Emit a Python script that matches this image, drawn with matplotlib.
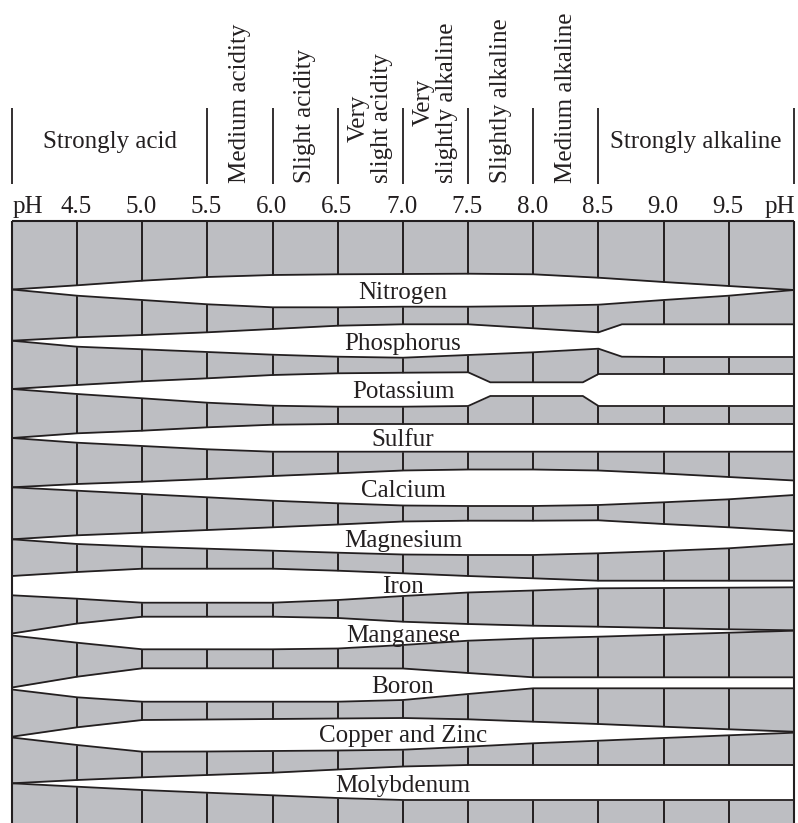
import matplotlib.pyplot as plt

# pH scale along the top of the chart
ph_ticks = [4.5, 5.0, 5.5, 6.0, 6.5, 7.0, 7.5, 8.0, 8.5, 9.0, 9.5]
ph_grid = [4.0, 4.5, 5.0, 5.5, 6.0, 6.5, 7.0, 7.5, 8.0, 8.5, 9.0, 9.5, 10.0]

# soil reaction classes: boundaries and names
zone_edges = [4.0, 5.5, 6.0, 6.5, 7.0, 7.5, 8.0, 8.5, 10.0]
zone_names = ['Strongly acid', 'Medium acidity', 'Slight acidity',
              'Very\nslight acidity', 'Very\nslightly alkaline',
              'Slightly alkaline', 'Medium alkaline', 'Strongly alkaline']
zone_rotated = [False, True, True, True, True, True, True, False]

# nutrient bands: upper and lower edge (chart units, downward) at each pH
nitrogen_ph = ph_grid
nitrogen_top = [289.5, 285.3, 280.7, 277.0, 275.0, 274.3, 274.0, 273.7, 274.3, 277.7, 282.0, 286.0, 290.0]
nitrogen_bot = [289.5, 295.7, 300.0, 304.3, 307.3, 307.3, 306.7, 306.7, 306.0, 304.7, 300.0, 295.7, 290.0]

phosphorus_ph = [4.0, 4.5, 5.0, 5.5, 6.0, 6.5, 7.0, 7.5, 8.0, 8.5, 8.68, 9.0, 9.5, 10.0]
phosphorus_top = [340.7, 337.3, 335.0, 332.3, 329.0, 325.7, 324.3, 324.3, 328.3, 332.3, 324.3, 324.3, 324.3, 324.3]
phosphorus_bot = [340.7, 346.7, 349.3, 352.0, 354.7, 356.7, 357.7, 355.0, 352.3, 348.7, 356.7, 357.0, 357.0, 357.0]

potassium_ph = [4.0, 4.5, 5.0, 5.5, 6.0, 6.5, 7.0, 7.5, 7.67, 8.38, 8.5, 9.0, 9.5, 10.0]
potassium_top = [389.0, 385.0, 381.3, 378.3, 375.0, 373.3, 372.7, 372.3, 382.3, 382.3, 374.0, 374.0, 374.0, 374.0]
potassium_bot = [389.0, 394.0, 398.3, 402.7, 405.7, 406.7, 406.7, 406.0, 396.0, 396.0, 406.0, 406.0, 406.0, 406.0]

sulfur_ph = ph_grid
sulfur_top = [438.0, 433.3, 430.7, 427.3, 424.7, 424.0, 424.0, 424.0, 424.0, 424.0, 424.0, 424.0, 424.0]
sulfur_bot = [438.0, 442.7, 446.0, 449.3, 451.7, 451.7, 451.7, 451.7, 451.7, 451.7, 451.7, 451.7, 451.7]

calcium_ph = ph_grid
calcium_top = [487.3, 484.0, 481.7, 479.0, 476.0, 473.3, 470.5, 469.5, 469.5, 470.5, 473.5, 477.0, 480.5]
calcium_bot = [487.3, 490.7, 494.0, 497.3, 500.7, 503.3, 505.5, 506.0, 506.0, 505.0, 502.3, 499.3, 495.0]

magnesium_ph = ph_grid
magnesium_top = [539.3, 535.3, 532.7, 530.0, 527.3, 524.5, 521.5, 520.7, 520.7, 520.3, 524.0, 527.3, 531.0]
magnesium_bot = [539.3, 544.0, 546.7, 548.7, 550.7, 552.7, 554.5, 555.0, 555.0, 553.3, 551.0, 548.3, 544.0]

iron_ph = ph_grid
iron_top = [576.0, 572.0, 568.7, 568.7, 568.7, 570.7, 573.3, 576.0, 578.3, 580.7, 580.7, 580.7, 580.7]
iron_bot = [595.3, 598.7, 602.7, 602.7, 602.7, 600.0, 596.0, 592.5, 590.5, 588.3, 588.0, 587.7, 587.3]

manganese_ph = ph_grid
manganese_top = [633.5, 623.5, 616.7, 616.7, 616.7, 618.0, 621.7, 624.0, 625.7, 626.7, 628.0, 629.3, 630.3]
manganese_bot = [635.5, 642.7, 649.3, 649.3, 649.3, 648.5, 645.0, 640.7, 638.3, 636.7, 634.7, 632.7, 630.7]

boron_ph = ph_grid
boron_top = [687.5, 676.7, 668.3, 668.3, 668.3, 668.3, 668.5, 673.0, 677.3, 677.3, 677.3, 677.3, 677.3]
boron_bot = [689.5, 697.3, 701.7, 701.7, 701.7, 701.7, 700.0, 694.0, 688.3, 688.3, 688.3, 688.3, 688.3]

copper_zinc_ph = ph_grid
copper_zinc_top = [736.7, 727.3, 720.0, 719.5, 719.0, 718.5, 718.0, 719.3, 721.7, 724.0, 726.7, 729.3, 731.7]
copper_zinc_bot = [737.5, 745.0, 751.7, 751.5, 751.0, 750.5, 749.7, 746.7, 743.3, 740.7, 738.0, 735.3, 732.7]

molybdenum_ph = ph_grid
molybdenum_top = [783.3, 780.0, 777.3, 775.0, 772.7, 769.5, 766.5, 765.0, 765.0, 765.0, 765.0, 765.0, 765.0]
molybdenum_bot = [783.3, 786.7, 790.0, 792.7, 795.3, 798.0, 800.0, 800.0, 800.0, 800.0, 800.0, 800.0, 800.0]

nutrients = [
    ('Nitrogen', nitrogen_ph, nitrogen_top, nitrogen_bot),
    ('Phosphorus', phosphorus_ph, phosphorus_top, phosphorus_bot),
    ('Potassium', potassium_ph, potassium_top, potassium_bot),
    ('Sulfur', sulfur_ph, sulfur_top, sulfur_bot),
    ('Calcium', calcium_ph, calcium_top, calcium_bot),
    ('Magnesium', magnesium_ph, magnesium_top, magnesium_bot),
    ('Iron', iron_ph, iron_top, iron_bot),
    ('Manganese', manganese_ph, manganese_top, manganese_bot),
    ('Boron', boron_ph, boron_top, boron_bot),
    ('Copper and Zinc', copper_zinc_ph, copper_zinc_top, copper_zinc_bot),
    ('Molybdenum', molybdenum_ph, molybdenum_top, molybdenum_bot),
]
label_ph = 7.0

INK = '#231f20'
GRAY = '#bdbec2'
FS = 18
plt.rcParams['font.family'] = ['Liberation Serif', 'DejaVu Serif']

fig = plt.figure(figsize=(7.98, 8.23), dpi=100)
ax = fig.add_axes([0, 0, 1, 1])
px_per_ph = 130.33
x_left = 4.0 - 12 / px_per_ph
ax.set_xlim(x_left, x_left + 798 / px_per_ph)
ax.set_ylim(823, 0)
ax.axis('off')

grid_top, grid_bottom = 221, 823
head_top, head_bottom = 108, 184

# gray grid with vertical cell lines
ax.fill_between([4.0, 10.0], grid_top, grid_bottom, color=GRAY, lw=0, zorder=1)
ax.vlines(ph_ticks, grid_top, grid_bottom, color=INK, lw=1.4, zorder=2)

# white availability bands
for name, ph, top, bot in nutrients:
    ax.fill_between(ph, top, bot, color='white', lw=0, zorder=3)
    ax.plot(ph, top, color=INK, lw=1.3, zorder=4, solid_joinstyle='miter')
    ax.plot(ph, bot, color=INK, lw=1.3, zorder=4, solid_joinstyle='miter')
    i = list(ph).index(label_ph)
    mid = (top[i] + bot[i]) / 2
    ax.text(label_ph, mid + 8.5, name, ha='center', va='baseline',
            fontsize=FS, color=INK, zorder=6)

# outer frame
ax.vlines([4.0, 10.0], grid_top, grid_bottom, color=INK, lw=1.5, zorder=5)
ax.hlines(grid_top, 4.0, 10.0, color=INK, lw=1.5, zorder=5)

# pH tick labels
ax.text(4.0 + 1 / px_per_ph, 213, 'pH', ha='left', va='baseline', fontsize=FS, color=INK)
ax.text(10.0 + 1 / px_per_ph, 213, 'pH', ha='right', va='baseline', fontsize=FS, color=INK)
for p in ph_ticks:
    ax.text(p - 1 / px_per_ph, 213, f'{p:.1f}', ha='center', va='baseline',
            fontsize=FS, color=INK)

# soil reaction header
ax.vlines(zone_edges, head_top, head_bottom, color=INK, lw=1.3)
for lo, hi, name, rot in zip(zone_edges[:-1], zone_edges[1:], zone_names, zone_rotated):
    xc = (lo + hi) / 2
    if rot:
        ax.text(xc, head_bottom - 1, name, rotation=90, ha='center', va='bottom',
                multialignment='center', linespacing=1.1, fontsize=FS, color=INK)
    else:
        ax.text(xc, 148, name, ha='center', va='baseline', fontsize=FS, color=INK)

fig.savefig('out.png', dpi=100)
